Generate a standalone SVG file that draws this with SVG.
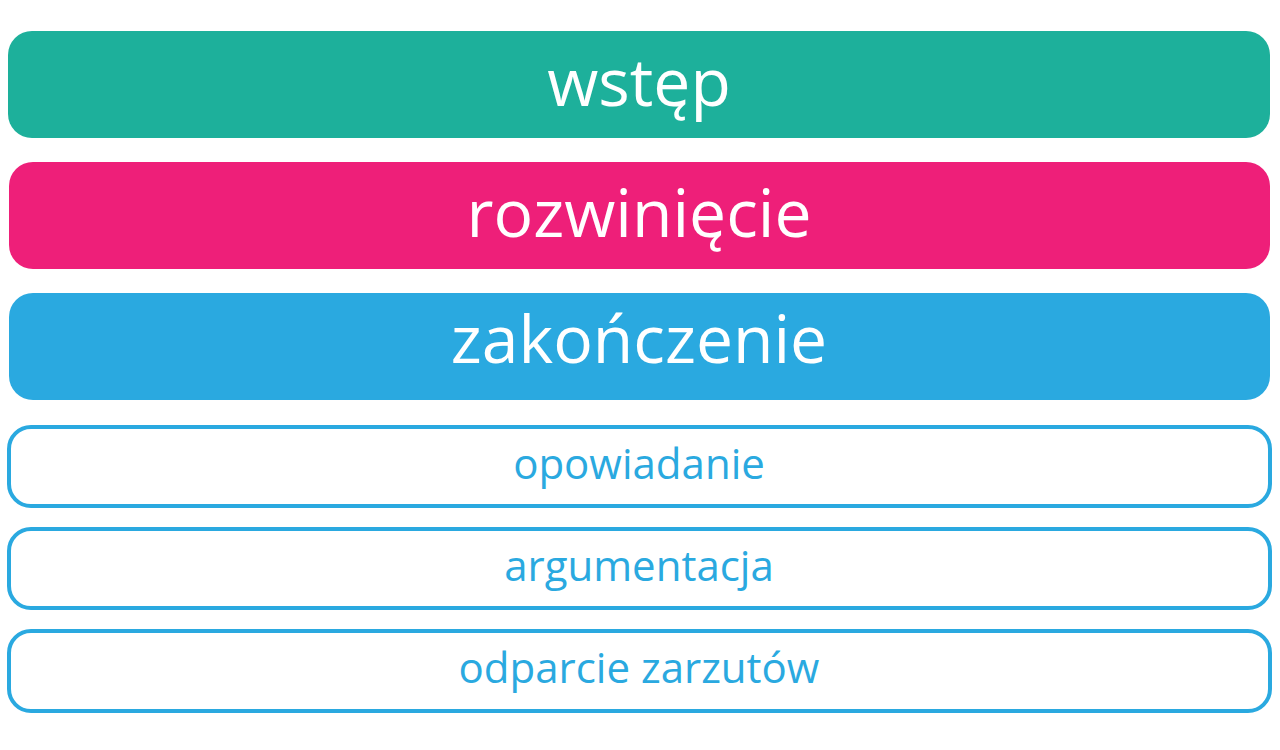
<svg xmlns="http://www.w3.org/2000/svg" width="1280" height="750" viewBox="0 0 1280 750">
<style>
.big{font-family:"Open Sans","Noto Sans",sans-serif;font-size:66px;fill:#ffffff;text-anchor:middle}
.small{font-family:"Open Sans","Noto Sans",sans-serif;font-size:42px;fill:#2aa9e0;text-anchor:middle}
.outline{fill:#ffffff;stroke:#2aa9e0;stroke-width:4}
</style>
<rect width="1280" height="750" fill="#ffffff"/>
<g id="wstep"><rect x="8" y="31" width="1262" height="107" rx="24" fill="#1db09b"/><text class="big" x="639" y="106">wstęp</text></g>
<g id="rozwiniecie"><rect x="9" y="162" width="1261" height="107" rx="24" fill="#ee1f79"/><text class="big" x="639" y="237">rozwinięcie</text></g>
<g id="zakonczenie"><rect x="9" y="293" width="1261" height="107" rx="24" fill="#2aa9e0"/><text class="big" x="639" y="363">zakończenie</text></g>
<g id="opowiadanie"><rect class="outline" x="9" y="427" width="1261" height="79" rx="22"/><text class="small" x="639" y="479">opowiadanie</text></g>
<g id="argumentacja"><rect class="outline" x="9" y="529" width="1261" height="79" rx="22"/><text class="small" x="639" y="581">argumentacja</text></g>
<g id="odparcie"><rect class="outline" x="9" y="631" width="1261" height="80" rx="22"/><text class="small" x="639" y="683">odparcie zarzutów</text></g>
<g id="connectors"/>
</svg>
